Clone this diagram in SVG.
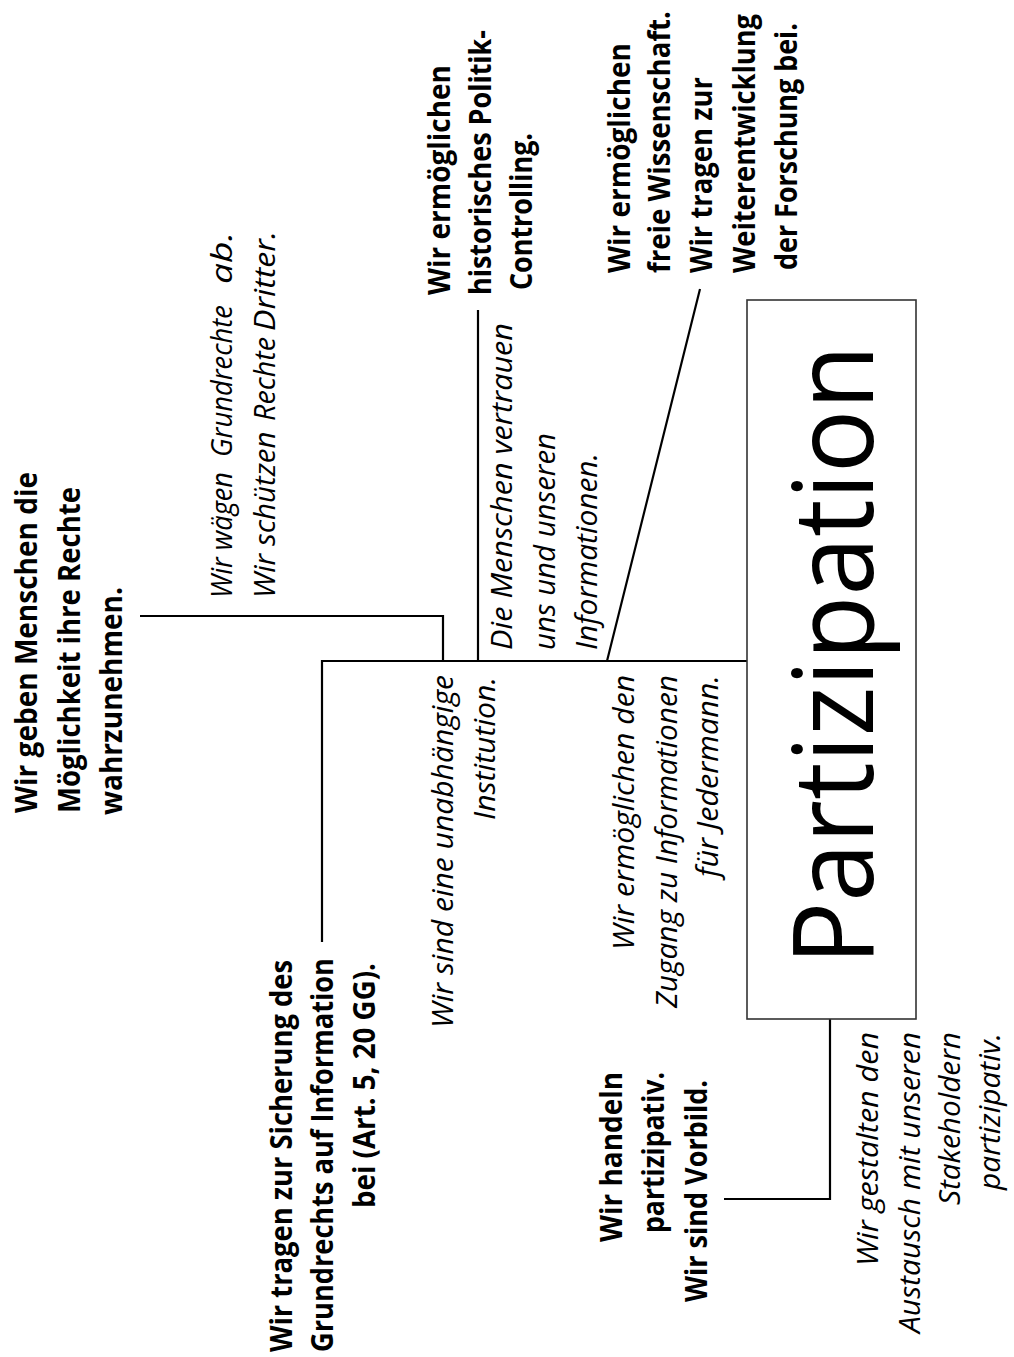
<svg xmlns="http://www.w3.org/2000/svg" width="1014" height="1357" viewBox="0 0 1014 1357">
  <style>
    text { font-family: "Open Sans", "Liberation Sans", sans-serif; fill: #000; }
    .b { font-weight: 700; font-size: 29.5px; }
    .i { font-style: italic; font-weight: 400; font-size: 29.5px; }
    .title { font-weight: 400; font-size: 112px; }
    .wire { fill: none; stroke: #000; stroke-width: 2.2; stroke-linejoin: miter; }
    .box { fill: #fff; stroke: #333; stroke-width: 1.6; }
  </style>
  <rect width="1014" height="1357" fill="#fff"/>

  <!-- connectors -->
  <g id="connectors">
    <path class="wire" d="M322,942 V661 H747"/>
    <path class="wire" d="M140,616 H443 V661"/>
    <path class="wire" d="M478,310 V661"/>
    <path class="wire" d="M607,661 L700,289"/>
    <path class="wire" d="M830,1019 V1199 H724"/>
  </g>

  <!-- central topic -->
  <g id="partizipation">
    <rect class="box" x="747" y="300" width="169" height="719"/>
    <text class="title" transform="rotate(-90)" x="-965" y="873" textLength="620" lengthAdjust="spacingAndGlyphs">Partizipation</text>
  </g>

  <g id="rechte-wahrnehmen" transform="rotate(-90)">
    <text class="b" x="-813" y="37" textLength="341" lengthAdjust="spacingAndGlyphs">Wir geben Menschen die</text>
    <text class="b" x="-813" y="80" textLength="326" lengthAdjust="spacingAndGlyphs">Möglichkeit ihre Rechte</text>
    <text class="b" x="-815" y="122" textLength="228" lengthAdjust="spacingAndGlyphs">wahrzunehmen.</text>
  </g>

  <!-- justified two-line label: words placed separately -->
  <g id="grundrechte-abwaegen" transform="rotate(-90)">
    <text class="i" x="-598" y="232" textLength="126" lengthAdjust="spacingAndGlyphs">Wir wägen</text>
    <text class="i" x="-457" y="232" textLength="152" lengthAdjust="spacingAndGlyphs">Grundrechte</text>
    <text class="i" x="-284" y="232" textLength="52" lengthAdjust="spacingAndGlyphs">ab.</text>
    <text class="i" x="-598" y="275">Wir schützen</text>
    <text class="i" x="-421" y="275" textLength="84" lengthAdjust="spacingAndGlyphs">Rechte</text>
    <text class="i" x="-331" y="275" textLength="100" lengthAdjust="spacingAndGlyphs">Dritter.</text>
  </g>

  <g id="politik-controlling" transform="rotate(-90)">
    <text class="b" x="-295" y="450" textLength="230" lengthAdjust="spacingAndGlyphs">Wir ermöglichen</text>
    <text class="b" x="-295" y="491" textLength="265" lengthAdjust="spacingAndGlyphs">historisches Politik-</text>
    <text class="b" x="-290" y="532" textLength="157" lengthAdjust="spacingAndGlyphs">Controlling.</text>
  </g>

  <g id="freie-wissenschaft" transform="rotate(-90)">
    <text class="b" x="-273" y="630" textLength="230" lengthAdjust="spacingAndGlyphs">Wir ermöglichen</text>
    <text class="b" x="-273" y="670" textLength="262" lengthAdjust="spacingAndGlyphs">freie Wissenschaft.</text>
    <text class="b" x="-273" y="712" textLength="196" lengthAdjust="spacingAndGlyphs">Wir tragen zur</text>
    <text class="b" x="-273" y="755" textLength="259" lengthAdjust="spacingAndGlyphs">Weiterentwicklung</text>
    <text class="b" x="-270" y="797" textLength="247" lengthAdjust="spacingAndGlyphs">der Forschung bei.</text>
  </g>

  <g id="vertrauen" transform="rotate(-90)">
    <text class="i" x="-650" y="512" textLength="327" lengthAdjust="spacingAndGlyphs">Die Menschen vertrauen</text>
    <text class="i" x="-650" y="555" textLength="217" lengthAdjust="spacingAndGlyphs">uns und unseren</text>
    <text class="i" x="-650" y="597" textLength="197" lengthAdjust="spacingAndGlyphs">Informationen.</text>
  </g>

  <g id="unabhaengige-institution" transform="rotate(-90)">
    <text class="i" x="-1028" y="453" textLength="353" lengthAdjust="spacingAndGlyphs">Wir sind eine unabhängige</text>
    <text class="i" x="-820" y="495" textLength="143" lengthAdjust="spacingAndGlyphs">Institution.</text>
  </g>

  <g id="zugang-informationen" transform="rotate(-90)">
    <text class="i" x="-950" y="634" textLength="275" lengthAdjust="spacingAndGlyphs">Wir ermöglichen den</text>
    <text class="i" x="-1008" y="677" textLength="333" lengthAdjust="spacingAndGlyphs">Zugang zu Informationen</text>
    <text class="i" x="-877" y="718" textLength="202" lengthAdjust="spacingAndGlyphs">für Jedermann.</text>
  </g>

  <g id="grundrecht-information" transform="rotate(-90)">
    <text class="b" x="-1352" y="292" textLength="392" lengthAdjust="spacingAndGlyphs">Wir tragen zur Sicherung des</text>
    <text class="b" x="-1352" y="333" textLength="394" lengthAdjust="spacingAndGlyphs">Grundrechts auf Information</text>
    <text class="b" x="-1208" y="375" textLength="245" lengthAdjust="spacingAndGlyphs">bei (Art. 5, 20 GG).</text>
  </g>

  <g id="vorbild" transform="rotate(-90)">
    <text class="b" x="-1242" y="622" textLength="170" lengthAdjust="spacingAndGlyphs">Wir handeln</text>
    <text class="b" x="-1233" y="664" textLength="161" lengthAdjust="spacingAndGlyphs">partizipativ.</text>
    <text class="b" x="-1302" y="707" textLength="222" lengthAdjust="spacingAndGlyphs">Wir sind Vorbild.</text>
  </g>

  <g id="stakeholder-austausch" transform="rotate(-90)">
    <text class="i" x="-1266" y="878" textLength="234" lengthAdjust="spacingAndGlyphs">Wir gestalten den</text>
    <text class="i" x="-1333" y="920" textLength="301" lengthAdjust="spacingAndGlyphs">Austausch mit unseren</text>
    <text class="i" x="-1205" y="960" textLength="173" lengthAdjust="spacingAndGlyphs">Stakeholdern</text>
    <text class="i" x="-1190" y="1000" textLength="157" lengthAdjust="spacingAndGlyphs">partizipativ.</text>
  </g>
</svg>
